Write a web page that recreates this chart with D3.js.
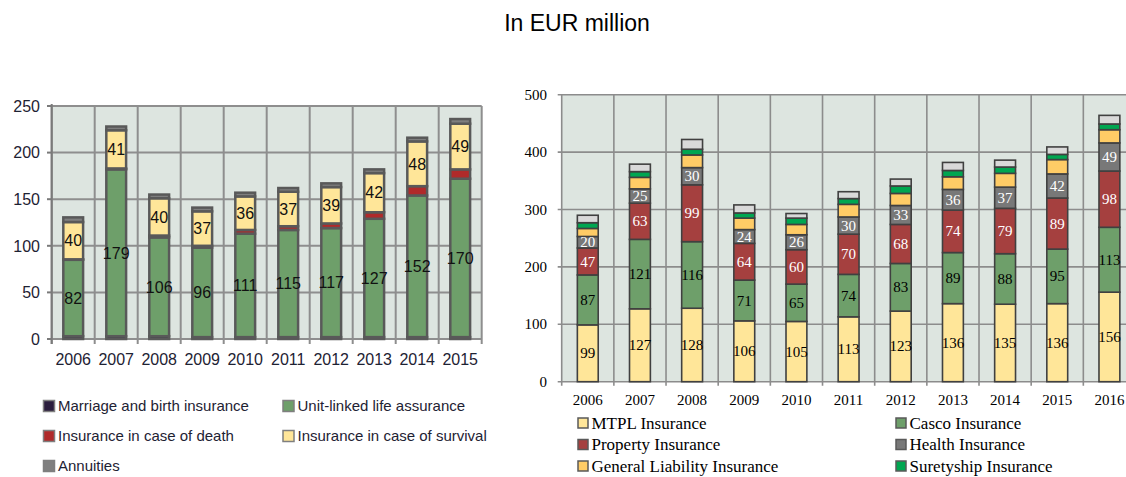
<!DOCTYPE html>
<html>
<head>
<meta charset="utf-8">
<script src="https://cdn.jsdelivr.net/npm/d3@7"></script>
<style>
  body { margin: 0; background: #ffffff; }
  svg { display: block; }
</style>
</head>
<body>
<svg id="chart" width="1126" height="477"></svg>
<script>
// left chart: life insurance
const lifeYears = ['2006', '2007', '2008', '2009', '2010', '2011', '2012', '2013', '2014', '2015'];
const marriage = [3, 3, 3, 2, 2, 2, 2, 2, 2, 2];
const unitLinked = [82, 179, 106, 96, 111, 115, 117, 127, 152, 170];
const death = [0.5, 1, 2, 2, 4, 4, 5, 7, 10, 10];
const survival = [40, 41, 40, 37, 36, 37, 39, 42, 48, 49];
const annuities = [5, 4, 4, 4, 4, 4, 4, 4, 4, 5];
const lifeTicks = [0, 50, 100, 150, 200, 250];

// right chart: non-life insurance
const nonLifeYears = ['2006', '2007', '2008', '2009', '2010', '2011', '2012', '2013', '2014', '2015', '2016'];
const mtpl = [99, 127, 128, 106, 105, 113, 123, 136, 135, 136, 156];
const casco = [87, 121, 116, 71, 65, 74, 83, 89, 88, 95, 113];
const property = [47, 63, 99, 64, 60, 70, 68, 74, 79, 89, 98];
const health = [20, 25, 30, 24, 26, 30, 33, 36, 37, 42, 49];
const liability = [14, 20, 22, 20, 18, 22, 21, 22, 24, 25, 23];
const suretyship = [10, 10, 10, 9, 11, 10, 13, 11, 11, 9, 10];
const other = [13, 13, 17, 14, 8, 12, 12, 14, 12, 13, 15];
const nonLifeTicks = [0, 100, 200, 300, 400, 500];

const LIFE = [
  { key: 'marriage', name: 'Marriage and birth insurance', color: '#2b1d3d', values: marriage },
  { key: 'unitLinked', name: 'Unit-linked life assurance', color: '#6e9f6a', values: unitLinked, label: true },
  { key: 'death', name: 'Insurance in case of death', color: '#b02a2a', values: death },
  { key: 'survival', name: 'Insurance in case of survival', color: '#ffe699', values: survival, label: true },
  { key: 'annuities', name: 'Annuities', color: '#7f7f7f', values: annuities }
];

const NONLIFE = [
  { key: 'mtpl', name: 'MTPL Insurance', color: '#ffe699', values: mtpl, label: '#000' },
  { key: 'casco', name: 'Casco Insurance', color: '#6e9f6a', values: casco, label: '#000' },
  { key: 'property', name: 'Property Insurance', color: '#a5403f', values: property, label: '#fff' },
  { key: 'health', name: 'Health Insurance', color: '#787878', values: health, label: '#fff' },
  { key: 'liability', name: 'General Liability Insurance', color: '#ffcc66', values: liability },
  { key: 'suretyship', name: 'Suretyship Insurance', color: '#00a651', values: suretyship },
  { key: 'other', name: 'Other', color: '#d9d9d9', values: other, noLegend: true }
];

const svg = d3.select('#chart');

svg.append('text')
  .attr('x', 577)
  .attr('y', 31)
  .attr('text-anchor', 'middle')
  .attr('font-family', 'Liberation Sans, Arial, sans-serif')
  .attr('font-size', 23)
  .attr('fill', '#000')
  .text('In EUR million');

function toRows(years, series) {
  return years.map((y, i) => {
    const row = { year: y };
    series.forEach(s => row[s.key] = s.values[i]);
    return row;
  });
}

function drawLife() {
  const g = svg.append('g').attr('class', 'life');
  const font = 'Liberation Sans, Arial, sans-serif';

  const x = d3.scaleBand()
    .domain(lifeYears)
    .range([51.7, 481.7])
    .paddingInner(0.54)
    .paddingOuter(0.27);
  const y = d3.scaleLinear()
    .domain([0, 250])
    .range([339, 106]);

  g.append('rect')
    .attr('x', 51.7).attr('y', 106)
    .attr('width', 430).attr('height', 233)
    .attr('fill', '#dde5e0');

  // grid
  g.selectAll('.hgrid')
    .data(lifeTicks)
    .enter()
    .append('line')
    .attr('x1', 51.7).attr('x2', 481.7)
    .attr('y1', d => y(d)).attr('y2', d => y(d))
    .attr('stroke', '#8e8e8e').attr('stroke-width', 2);

  const bounds = lifeYears.map(d => x(d) - x.step() * x.paddingInner() / 2).concat([481.7]);
  g.selectAll('.vgrid')
    .data(bounds)
    .enter()
    .append('line')
    .attr('x1', d => d).attr('x2', d => d)
    .attr('y1', 106).attr('y2', 344)
    .attr('stroke', '#8e8e8e').attr('stroke-width', 2);

  // axes
  g.append('line')
    .attr('x1', 51.7).attr('x2', 51.7)
    .attr('y1', 104).attr('y2', 344)
    .attr('stroke', '#7a7a7a').attr('stroke-width', 2);
  g.selectAll('.ytick')
    .data(lifeTicks)
    .enter()
    .append('line')
    .attr('x1', 47).attr('x2', 51.7)
    .attr('y1', d => y(d)).attr('y2', d => y(d))
    .attr('stroke', '#7a7a7a').attr('stroke-width', 2);

  g.selectAll('.ylab')
    .data(lifeTicks)
    .enter()
    .append('text')
    .attr('x', 40)
    .attr('y', d => y(d))
    .attr('dy', '0.36em')
    .attr('text-anchor', 'end')
    .attr('font-family', font)
    .attr('font-size', 16)
    .attr('fill', '#1e2233')
    .text(d => d);

  g.selectAll('.xlab')
    .data(lifeYears)
    .enter()
    .append('text')
    .attr('x', d => x(d) + x.bandwidth() / 2)
    .attr('y', 365)
    .attr('text-anchor', 'middle')
    .attr('font-family', font)
    .attr('font-size', 16)
    .attr('fill', '#1e2233')
    .text(d => d);

  const stacked = d3.stack().keys(LIFE.map(s => s.key))(toRows(lifeYears, LIFE));

  const series = g.selectAll('.series')
    .data(stacked)
    .enter()
    .append('g')
    .attr('fill', (d, i) => LIFE[i].color);

  series.selectAll('rect')
    .data(d => d)
    .enter()
    .append('rect')
    .attr('x', d => x(d.data.year))
    .attr('y', d => y(d[1]))
    .attr('width', x.bandwidth())
    .attr('height', d => y(d[0]) - y(d[1]))
    .attr('stroke', '#595959')
    .attr('stroke-width', 2.5);

  stacked.forEach((s, i) => {
    if (!LIFE[i].label) return;
    g.selectAll('.lab-' + s.key)
      .data(s)
      .enter()
      .append('text')
      .attr('x', d => x(d.data.year) + x.bandwidth() / 2)
      .attr('y', d => y((d[0] + d[1]) / 2))
      .attr('dy', '0.36em')
      .attr('text-anchor', 'middle')
      .attr('font-family', font)
      .attr('font-size', 16)
      .attr('fill', '#111')
      .text(d => d[1] - d[0]);
  });

  // legend
  const legend = g.selectAll('.legend')
    .data(LIFE)
    .enter()
    .append('g')
    .attr('transform', (d, i) => 'translate(' + (i % 2 ? 283 : 43.5) + ',' + (406 + Math.floor(i / 2) * 30) + ')');
  legend.append('rect')
    .attr('x', 0).attr('y', -5.5)
    .attr('width', 11).attr('height', 11)
    .attr('fill', d => d.color)
    .attr('stroke', '#7f7f7f')
    .attr('stroke-width', 1.5);
  legend.append('text')
    .attr('x', 14.5)
    .attr('dy', '0.36em')
    .attr('font-family', font)
    .attr('font-size', 15)
    .attr('fill', '#1e2233')
    .text(d => d.name);
}

function drawNonLife() {
  const g = svg.append('g').attr('class', 'nonlife');
  const font = 'Liberation Serif, Times New Roman, serif';
  const x0 = 561.7, x1 = 1135.5;

  const x = d3.scaleBand()
    .domain(nonLifeYears)
    .range([x0, x1])
    .paddingInner(0.6)
    .paddingOuter(0.3);
  const y = d3.scaleLinear()
    .domain([0, 500])
    .range([381.7, 94.7]);

  g.append('rect')
    .attr('x', x0).attr('y', y(500))
    .attr('width', x1 - x0).attr('height', y(0) - y(500))
    .attr('fill', '#dde5e0');

  g.selectAll('.hgrid')
    .data(nonLifeTicks)
    .enter()
    .append('line')
    .attr('x1', x0 - 4).attr('x2', x1)
    .attr('y1', d => y(d)).attr('y2', d => y(d))
    .attr('stroke', '#8c8c8c').attr('stroke-width', 1.6);

  const bounds = nonLifeYears.map(d => x(d) - x.step() * x.paddingInner() / 2);
  g.selectAll('.vgrid')
    .data(bounds)
    .enter()
    .append('line')
    .attr('x1', d => d).attr('x2', d => d)
    .attr('y1', y(500)).attr('y2', y(0) + 4)
    .attr('stroke', '#8c8c8c').attr('stroke-width', 1.6);

  g.selectAll('.ylab')
    .data(nonLifeTicks)
    .enter()
    .append('text')
    .attr('x', 547)
    .attr('y', d => y(d))
    .attr('dy', '0.34em')
    .attr('text-anchor', 'end')
    .attr('font-family', font)
    .attr('font-size', 15)
    .attr('fill', '#000')
    .text(d => d);

  g.selectAll('.xlab')
    .data(nonLifeYears)
    .enter()
    .append('text')
    .attr('x', d => x(d) + x.bandwidth() / 2)
    .attr('y', 405)
    .attr('text-anchor', 'middle')
    .attr('font-family', font)
    .attr('font-size', 15)
    .attr('fill', '#000')
    .text(d => d);

  const stacked = d3.stack().keys(NONLIFE.map(s => s.key))(toRows(nonLifeYears, NONLIFE));

  const series = g.selectAll('.series')
    .data(stacked)
    .enter()
    .append('g')
    .attr('fill', (d, i) => NONLIFE[i].color);

  series.selectAll('rect')
    .data(d => d)
    .enter()
    .append('rect')
    .attr('x', d => x(d.data.year))
    .attr('y', d => y(d[1]))
    .attr('width', x.bandwidth())
    .attr('height', d => y(d[0]) - y(d[1]))
    .attr('stroke', '#404040')
    .attr('stroke-width', 1.6);

  stacked.forEach((s, i) => {
    if (!NONLIFE[i].label) return;
    g.selectAll('.lab-' + s.key)
      .data(s)
      .enter()
      .append('text')
      .attr('x', d => x(d.data.year) + x.bandwidth() / 2)
      .attr('y', d => y((d[0] + d[1]) / 2))
      .attr('dy', '0.34em')
      .attr('text-anchor', 'middle')
      .attr('font-family', font)
      .attr('font-size', 15)
      .attr('fill', NONLIFE[i].label)
      .text(d => d[1] - d[0]);
  });

  const legend = g.selectAll('.legend')
    .data(NONLIFE.filter(d => !d.noLegend))
    .enter()
    .append('g')
    .attr('transform', (d, i) => 'translate(' + (i % 2 ? 896 : 578) + ',' + (423 + Math.floor(i / 2) * 21.5) + ')');
  legend.append('rect')
    .attr('x', 0).attr('y', -5)
    .attr('width', 10).attr('height', 10)
    .attr('fill', d => d.color)
    .attr('stroke', '#595959')
    .attr('stroke-width', 1.5);
  legend.append('text')
    .attr('x', 13.5)
    .attr('dy', '0.34em')
    .attr('font-family', font)
    .attr('font-size', 17)
    .attr('fill', '#000')
    .text(d => d.name);
}

drawLife();
drawNonLife();
</script>
</body>
</html>
